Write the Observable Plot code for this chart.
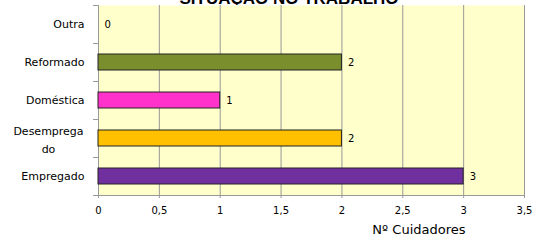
<!DOCTYPE html>
<html>
<head>
<meta charset="utf-8">
<script src="https://cdn.jsdelivr.net/npm/d3@7"></script>
<script src="https://cdn.jsdelivr.net/npm/@observablehq/plot@0.6"></script>
<style>
  body { margin: 0; background: #fff; }
  #title-wrap { position: relative; height: 5px; width: 540px; overflow: hidden; }
  #title { position: absolute; left: 0; top: -10px; width: 578px; text-align: center;
           font: bold 17px/17px "Liberation Sans", Arial, sans-serif; color: #000; }
</style>
</head>
<body>
<div id="title-wrap"><div id="title">SITUAÇÃO NO TRABALHO</div></div>
<div id="chart"></div>
<script>
const categories = ["Outra", "Reformado", "Doméstica", "Desempregado", "Empregado"];
const values = [0, 2, 1, 2, 3];
const colors = ["#ffffcc", "#7b8e2e", "#ff33cc", "#ffc000", "#7030a0"];
const xTicks = [0, 0.5, 1, 1.5, 2, 2.5, 3, 3.5];
const xTickLabels = ["0", "0,5", "1", "1,5", "2", "2,5", "3", "3,5"];
const xLabel = "Nº Cuidadores";
const wrappedLabel = "Desemprega\ndo";

const data = categories.map((c, i) => ({cat: c, value: values[i], color: colors[i]}));
const font = "DejaVu Sans, sans-serif";

const chart = Plot.plot({
  width: 540,
  height: 236,
  marginTop: 0,
  marginBottom: 46,
  marginLeft: 98,
  marginRight: 16,
  style: {fontFamily: font, fontSize: "10px", color: "#000", background: "transparent"},
  x: {domain: [0, 3.5], axis: null, label: null},
  y: {domain: categories, paddingInner: 0.59, paddingOuter: 0.295, axis: null, label: null},
  marks: [
    Plot.frame({fill: "#ffffcc", stroke: null}),
    Plot.gridX(xTicks, {stroke: "#999", strokeOpacity: 1, strokeWidth: 1}),
    Plot.ruleX([0], {stroke: "#999"}),
    Plot.axisX(xTicks, {
      label: null,
      tickFormat: (d, i) => xTickLabels[i],
      tickSize: 3, tickPadding: 8, stroke: "#999", fontSize: 10, fill: "#000"
    }),
    Plot.axisY({
      label: null,
      tickSize: 0, tickPadding: 14, fontSize: 11, fill: "#000",
      tickFormat: d => d === "Desempregado" ? "" : d
    }),
    Plot.text([wrappedLabel], {
      y: () => "Desempregado", frameAnchor: "left", dx: -50, textAnchor: "middle",
      lineHeight: 1.6, fontSize: 11, fill: "#000"
    }),
    Plot.barX(data, {
      x: "value", y: "cat", fill: "color", stroke: "#222", strokeWidth: 1
    }),
    Plot.text(data, {
      x: "value", y: "cat", text: d => String(d.value), dx: 6, textAnchor: "start",
      fontSize: 10, fill: "#000"
    }),
    Plot.text([xLabel], {
      frameAnchor: "bottom-right", dx: -59, dy: 38, textAnchor: "end",
      fontSize: 13, fill: "#000"
    })
  ]
});

document.getElementById("chart").append(chart);

// Excel-style y tick stubs at category band boundaries, from Plot's y scale
const ys = chart.scale("y");
const xs = chart.scale("x");
const x0 = xs.apply(0);
const x1 = xs.apply(3.5);
const half = ys.step / 2;
const mids = categories.map(c => ys.apply(c) + ys.bandwidth / 2);
const bounds = [mids[0] - half, ...mids.map(m => m + half)];
const svg = d3.select(chart);
const g = svg.append("g").attr("stroke", "#999").attr("shape-rendering", "crispEdges");
bounds.forEach(b => {
  g.append("line").attr("x1", x0 - 5).attr("x2", x0).attr("y1", b).attr("y2", b);
});
// bottom axis line
g.append("line").attr("x1", x0).attr("x2", x1)
  .attr("y1", bounds[bounds.length - 1]).attr("y2", bounds[bounds.length - 1]);
</script>
</body>
</html>
